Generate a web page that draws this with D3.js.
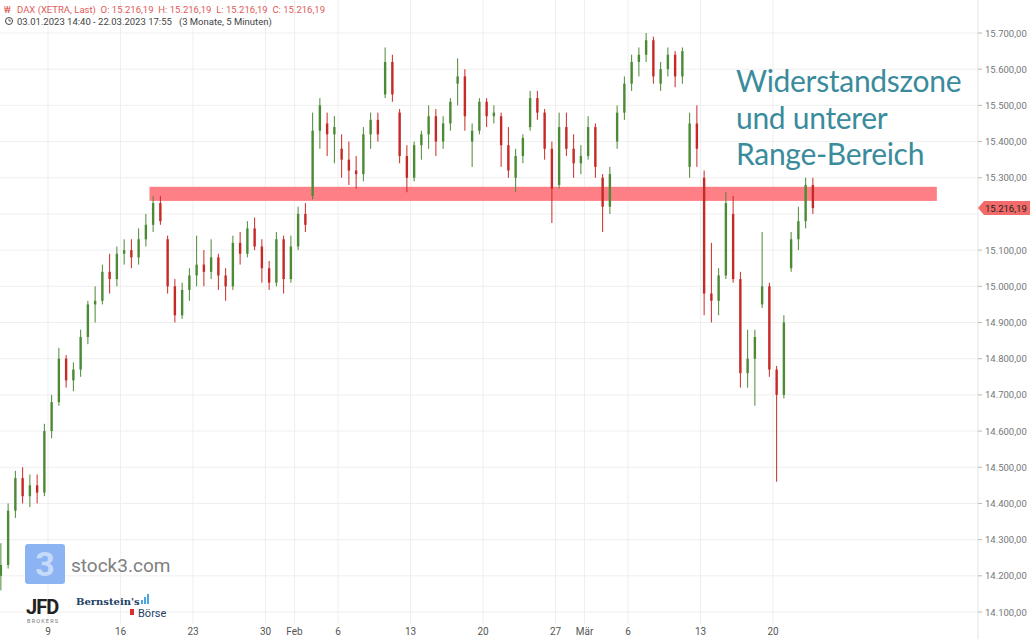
<!DOCTYPE html>
<html>
<head>
<meta charset="utf-8">
<script src="https://cdn.jsdelivr.net/npm/d3@7"></script>
<style>
  body { margin: 0; background: #fff; }
  svg { display: block; font-family: Roboto, "Liberation Sans", sans-serif; }
  text { white-space: pre; }
</style>
</head>
<body>
<svg id="chart" width="1030" height="639"></svg>
<script>
// trading days (Jan 3 .. Mar 22), two half-day candles each
const days = ['03.01','04.01','05.01','06.01','09.01','10.01','11.01','12.01','13.01',
  '16.01','17.01','18.01','19.01','20.01','23.01','24.01','25.01','26.01','27.01',
  '30.01','31.01','01.02','02.02','03.02','06.02','07.02','08.02','09.02','10.02',
  '13.02','14.02','15.02','16.02','17.02','20.02','21.02','22.02','23.02','24.02',
  '27.02','28.02','01.03','02.03','03.03','06.03','07.03','08.03','09.03','10.03',
  '13.03','14.03','15.03','16.03','17.03','20.03','21.03','22.03'];

// [day index + fraction, open, high, low, close]
const candles = [
  [0.75,14200,14290,14160,14230],
  [1.25,14230,14400,14220,14380],[1.75,14380,14490,14360,14470],
  [2.25,14470,14500,14400,14420],[2.75,14420,14480,14390,14450],
  [3.25,14450,14480,14400,14430],[3.75,14430,14620,14420,14600],
  [4.25,14600,14700,14580,14680],[4.75,14680,14830,14670,14800],
  [5.25,14800,14810,14720,14740],[5.75,14740,14790,14710,14770],
  [6.25,14770,14880,14750,14860],[6.75,14860,14960,14840,14950],
  [7.25,14950,15000,14900,14960],[7.75,14960,15060,14950,15040],
  [8.25,15040,15090,14980,15020],[8.75,15020,15110,15000,15090],
  [9.25,15090,15130,15060,15100],[9.75,15100,15130,15050,15080],
  [10.25,15080,15160,15060,15130],[10.75,15130,15200,15110,15170],
  [11.25,15170,15250,15150,15230],[11.75,15230,15250,15170,15180],
  [12.25,15130,15140,14980,15000],[12.75,15000,15020,14900,14920],
  [13.25,14920,15010,14910,14990],[13.75,14990,15050,14960,15030],
  [14.25,15030,15140,15000,15060],[14.75,15060,15100,15000,15040],
  [15.25,15040,15130,15020,15080],[15.75,15080,15090,14990,15030],
  [16.25,15030,15050,14960,15000],[16.75,15000,15140,14990,15120],
  [17.25,15120,15150,15060,15090],[17.75,15090,15180,15080,15160],
  [18.25,15160,15190,15100,15110],[18.75,15110,15130,15010,15050],
  [19.25,15050,15070,14990,15010],[19.75,15010,15150,15000,15130],
  [20.25,15130,15140,14980,15020],[20.75,15020,15140,15010,15110],
  [21.25,15110,15220,15100,15200],[21.75,15200,15230,15150,15170],
  [22.25,15250,15480,15240,15430],[22.75,15430,15520,15380,15500],
  [23.25,15450,15480,15360,15420],[23.75,15420,15470,15340,15440],
  [24.25,15380,15420,15300,15350],[24.75,15350,15400,15280,15320],
  [25.25,15320,15360,15270,15310],[25.75,15310,15440,15290,15420],
  [26.25,15420,15480,15380,15460],[26.75,15460,15480,15400,15420],
  [27.25,15530,15660,15520,15620],[27.75,15620,15640,15510,15530],
  [28.25,15480,15490,15340,15360],[28.75,15360,15390,15260,15300],
  [29.25,15300,15400,15290,15390],[29.75,15390,15430,15350,15420],
  [30.25,15420,15500,15380,15470],[30.75,15470,15490,15360,15400],
  [31.25,15400,15470,15380,15450],[31.75,15450,15520,15430,15510],
  [32.25,15560,15630,15500,15580],[32.75,15580,15600,15430,15470],
  [33.25,15400,15450,15330,15430],[33.75,15430,15520,15420,15510],
  [34.25,15510,15520,15440,15470],[34.75,15470,15500,15450,15480],
  [35.25,15470,15480,15330,15390],[35.75,15390,15440,15300,15320],
  [36.25,15300,15380,15260,15360],[36.75,15360,15420,15340,15410],
  [37.25,15440,15540,15430,15520],[37.75,15520,15540,15460,15480],
  [38.25,15480,15490,15350,15380],[38.75,15380,15400,15175,15270],
  [39.25,15280,15480,15270,15440],[39.75,15440,15480,15360,15380],
  [40.25,15380,15420,15300,15340],[40.75,15340,15390,15310,15360],
  [41.25,15360,15470,15350,15440],[41.75,15440,15450,15300,15330],
  [42.25,15300,15310,15150,15220],[42.75,15220,15330,15200,15310],
  [43.25,15400,15500,15380,15480],[43.75,15480,15580,15460,15560],
  [44.25,15560,15640,15540,15620],[44.75,15620,15660,15580,15640],
  [45.25,15640,15700,15620,15680],[45.75,15680,15690,15560,15580],
  [46.25,15560,15620,15540,15600],[46.75,15600,15660,15580,15640],
  [47.25,15640,15650,15550,15580],[47.75,15580,15660,15560,15650],
  [48.25,15330,15480,15300,15450],[48.75,15450,15500,15330,15380],
  [49.25,15300,15320,14920,14980],[49.75,14980,15120,14900,14960],
  [50.25,14960,15050,14920,15030],[50.75,15030,15260,15020,15230],
  [51.25,15200,15250,15010,15020],[51.75,15020,15040,14720,14760],
  [52.25,14760,14880,14720,14800],[52.75,14800,14880,14670,14860],
  [53.25,14950,15150,14940,15000],[53.75,15000,15010,14750,14770],
  [54.25,14770,14780,14460,14700],[54.75,14700,14920,14690,14900],
  [55.25,15050,15150,15040,15130],[55.75,15130,15220,15100,15180],
  [56.25,15180,15300,15160,15280],[56.75,15280,15300,15200,15216.19]
];

// x ticks: [day index, label]
const xTicks = [[4,'9'],[9,'16'],[14,'23'],[19,'30'],[21,'Feb'],[24,'6'],[29,'13'],
  [34,'20'],[39,'27'],[41,'Mär'],[44,'6'],[49,'13'],[54,'20']];
const yTicks = d3.range(14100, 15701, 100);
const zone = { from: 11, to: 65.3, low: 15236, high: 15275 };
const lastPrice = 15216.19;
const noteLines = ['Widerstandszone', 'und unterer', 'Range-Bereich'];

const svg = d3.select('#chart');
const fmt = d3.formatLocale({ decimal: ',', thousands: '.', grouping: [3], currency: ['', ''] }).format(',.2f');

const x = d3.scaleLinear().domain([4, 54]).range([48, 773]);
const y = d3.scaleLinear().domain([14100, 15700]).range([612, 33]);
const plotRight = 978;

// grid
svg.append('g').selectAll('line').data(yTicks).join('line')
  .attr('x1', 0).attr('x2', plotRight).attr('y1', (d) => y(d)).attr('y2', (d) => y(d))
  .attr('stroke', '#efefef');
svg.append('g').selectAll('line').data(xTicks).join('line')
  .attr('x1', (d) => x(d[0])).attr('x2', (d) => x(d[0])).attr('y1', 0).attr('y2', 624)
  .attr('stroke', '#efefef');

// resistance zone
svg.append('rect')
  .attr('x', x(zone.from)).attr('width', x(zone.to) - x(zone.from))
  .attr('y', y(zone.high)).attr('height', y(zone.low) - y(zone.high))
  .attr('fill', '#ff7f86');

// candles
const cw = 2.4;
const g = svg.append('g');
candles.forEach(([t, o, h, l, c]) => {
  const col = c >= o ? '#4c8a35' : '#c62a26';
  g.append('line').attr('x1', x(t)).attr('x2', x(t)).attr('y1', y(h)).attr('y2', y(l))
    .attr('stroke', col).attr('stroke-width', 1);
  g.append('rect').attr('x', x(t) - cw / 2).attr('width', cw)
    .attr('y', y(Math.max(o, c))).attr('height', Math.max(1, Math.abs(y(o) - y(c))))
    .attr('fill', col);
});

// right axis
svg.append('line').attr('x1', plotRight).attr('x2', plotRight).attr('y1', 0).attr('y2', 639)
  .attr('stroke', '#e4e4e4');
const ly = y(lastPrice);
const ya = svg.append('g').selectAll('g').data(yTicks.filter((d) => Math.abs(y(d) - ly) > 12)).join('g');
ya.append('line').attr('x1', plotRight).attr('x2', plotRight + 4)
  .attr('y1', (d) => y(d)).attr('y2', (d) => y(d)).attr('stroke', '#bbb');
ya.append('text').attr('x', 985).attr('y', (d) => y(d) + 3.5)
  .attr('font-size', 9.5).attr('fill', '#777').text((d) => fmt(d));

// last price tag
svg.append('path')
  .attr('d', `M${plotRight},${ly} L${plotRight + 6},${ly - 7} H1030 V${ly + 7} H${plotRight + 6} Z`)
  .attr('fill', '#f26a6a');
svg.append('text').attr('x', 985).attr('y', ly + 3.5).attr('font-size', 9.5)
  .attr('fill', '#222').text(fmt(lastPrice));

// x axis labels
const xa = svg.append('g').selectAll('g').data(xTicks).join('g');
xa.append('text').attr('x', (d) => x(d[0])).attr('y', 635).attr('text-anchor', 'middle')
  .attr('font-size', 10).attr('fill', '#555').text((d) => d[1]);

// annotation
svg.append('g').selectAll('text').data(noteLines).join('text')
  .attr('x', 736).attr('y', (d, i) => 92 + i * 36.5)
  .attr('font-family', 'Lato, sans-serif').attr('font-size', 30).attr('letter-spacing', -0.3)
  .attr('fill', '#3a8b9c').text((d) => d);

// header
svg.append('text').attr('x', 17).attr('y', 13).attr('font-size', 9.5).attr('fill', '#e05a5a')
  .text('DAX (XETRA, Last)  O: 15.216,19  H: 15.216,19  L: 15.216,19  C: 15.216,19');
svg.append('text').attr('x', 4).attr('y', 13).attr('font-size', 9).attr('fill', '#e05a5a').text('₩');
svg.append('circle').attr('cx', 9).attr('cy', 21).attr('r', 3.5).attr('fill', 'none').attr('stroke', '#444');
svg.append('path').attr('d', 'M9,19 V21 H11').attr('fill', 'none').attr('stroke', '#444').attr('stroke-width', 0.8);
svg.append('text').attr('x', 17).attr('y', 25).attr('font-size', 9.5).attr('fill', '#444')
  .text('03.01.2023 14:40 - 22.03.2023 17:55   (3 Monate, 5 Minuten)');

// logos
svg.append('rect').attr('x', 25).attr('y', 544).attr('width', 40).attr('height', 40)
  .attr('rx', 3).attr('fill', '#8db4f2');
svg.append('text').attr('x', 45).attr('y', 576).attr('text-anchor', 'middle')
  .attr('font-size', 34).attr('font-weight', 'bold').attr('fill', '#c6dafa').text('3');
svg.append('text').attr('x', 71).attr('y', 572).attr('font-size', 19).attr('fill', '#808080')
  .text('stock3.com');
svg.append('text').attr('x', 26).attr('y', 614).attr('font-size', 20).attr('font-weight', 'bold')
  .attr('letter-spacing', -1).attr('fill', '#222').text('JFD');
svg.append('text').attr('x', 27).attr('y', 623).attr('font-size', 5.5).attr('letter-spacing', 1.2)
  .attr('fill', '#777').text('BROKERS');
svg.append('text').attr('x', 76).attr('y', 605).attr('font-family', '"DejaVu Serif", serif')
  .attr('font-size', 10).attr('font-weight', 'bold').attr('fill', '#1d3f66').text("Bernstein's");
svg.append('text').attr('x', 138).attr('y', 617).attr('font-size', 11).attr('fill', '#1d3f66').text('Börse');
svg.append('rect').attr('x', 130).attr('y', 609).attr('width', 4).attr('height', 6).attr('fill', '#d9302c');
[[141, 4], [144, 7], [147, 10]].forEach(([bx, bh]) =>
  svg.append('rect').attr('x', bx).attr('y', 604 - bh).attr('width', 2).attr('height', bh).attr('fill', '#4aa8e0'));
</script>
</body>
</html>
